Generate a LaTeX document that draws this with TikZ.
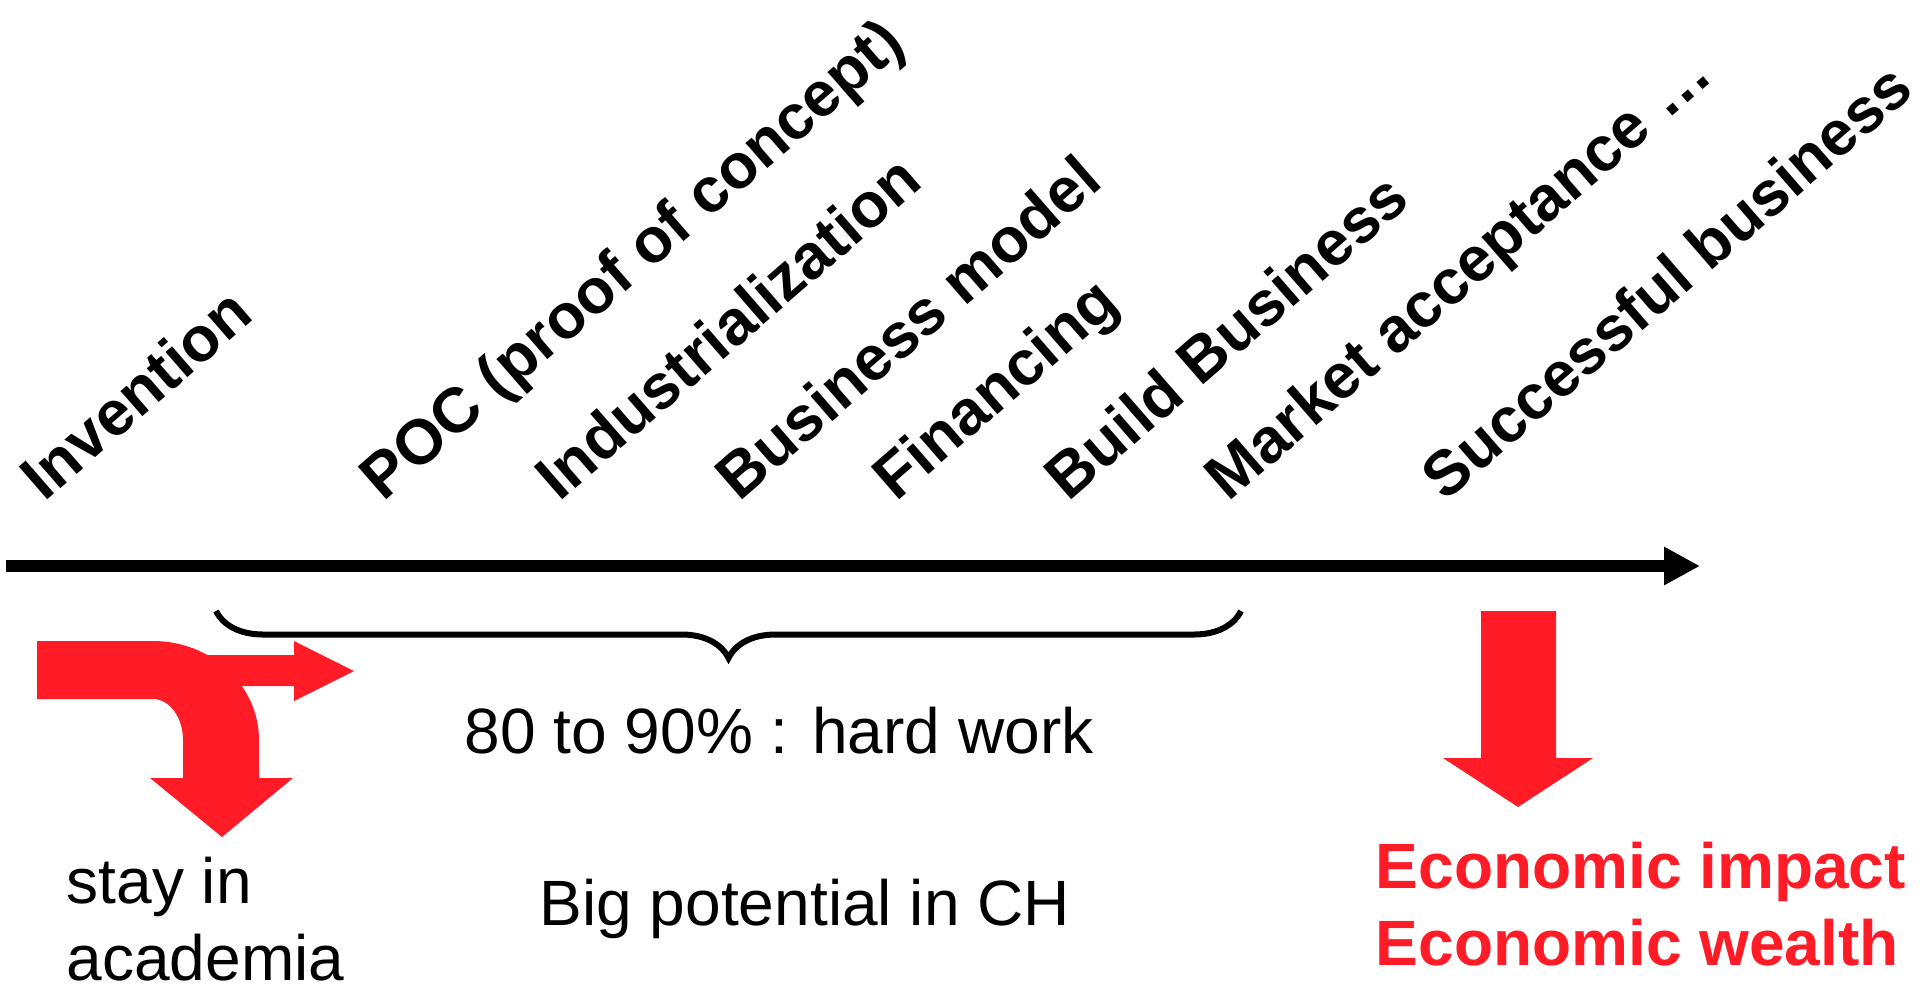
\documentclass[tikz,border=0pt]{standalone}
\usepackage{fontspec}
\setmainfont{Liberation Sans}
\usetikzlibrary{arrows.meta,decorations.pathreplacing}
\definecolor{signalred}{RGB}{255,28,38}
\tikzset{
  stage/.style={rotate=41,anchor=base west,inner sep=0pt,
    font=\fontsize{17.93pt}{21.5pt}\selectfont\bfseries},
  remark/.style={anchor=base west,inner sep=0pt},
  outcome/.style={anchor=base west,inner sep=0pt,font=\bfseries,text=signalred},
}
\begin{document}
\fontsize{18.21pt}{21.9pt}\selectfont
\begin{tikzpicture}[x=0.01cm,y=-0.01cm]
  \useasboundingbox (0,0) rectangle (1927,985);
  % time axis
  \coordinate (start) at (6,566);
  \coordinate (finish) at (1700,566);
  \draw[line width=1.2mm,-{Triangle[length=3.6mm,width=3.6mm]}] (start) -- (finish);
  % stages along the way
  \node[stage] (invention) at (44,503) {Invention};
  \node[stage] (poc) at (383,503) {POC (proof of concept)};
  \node[stage] (industrial) at (559,503) {Industrialization};
  \node[stage] (model) at (739,503) {Business model};
  \node[stage] (financing) at (896,503) {Financing};
  \node[stage] (build) at (1068,503) {Build Business};
  \node[stage] (market) at (1228,503) {Market acceptance …};
  \node[stage] (success) at (1445,503) {Successful business};
  % hard part
  \draw[line width=0.6mm,decorate,decoration={brace,amplitude=4.7mm}]
    (1241,611) -- (216,611);
  \node[remark] (hardwork) at (464,753) {80 to 90\% : hard work};
  \node[remark] (potential) at (539,925) {Big potential in CH};
  % split arrow at the start
  \fill[signalred] (190,655) -- (294,655) -- (294,641) -- (354,671)
    -- (294,701) -- (294,686) -- (190,686) -- cycle;
  \fill[signalred] (37,641) -- (153,641)
    .. controls (211.5,641) and (259,685.4) .. (259,740)
    -- (259,778) -- (293,778) -- (222,837) -- (150,778) -- (183,778)
    -- (183,740) .. controls (183,717.4) and (169.6,699) .. (153,699)
    -- (37,699) -- cycle;
  \node[remark] (stay) at (66,903) {stay in};
  \node[remark] (academia) at (66,980) {academia};
  % arrow down to the outcome
  \fill[signalred] (1481,611) -- (1556,611) -- (1556,758) -- (1593,758)
    -- (1518,807) -- (1443,758) -- (1481,758) -- cycle;
  \node[outcome] (impact) at (1375,888) {Economic impact};
  \node[outcome] (wealth) at (1375,965) {Economic wealth};
\end{tikzpicture}
\end{document}
